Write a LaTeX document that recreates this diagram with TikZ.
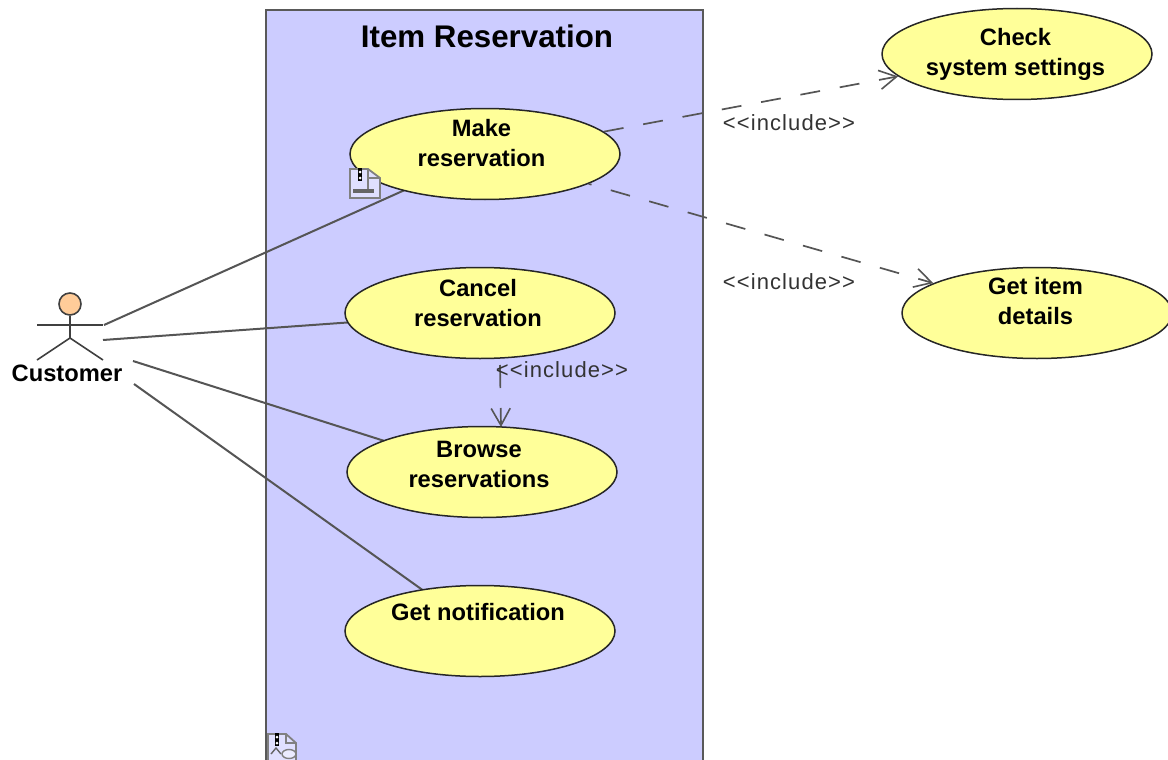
\documentclass[tikz,border=0pt]{standalone}
\usepackage{fontspec}
\setmainfont{Liberation Sans}
\newfontfamily\inclfont[LetterSpace=5]{Liberation Sans}
\usetikzlibrary{shapes.geometric,arrows.meta}
\definecolor{frameblue}{HTML}{CCCCFF}
\definecolor{ucyellow}{HTML}{FFFF99}
\definecolor{skin}{HTML}{FFCC99}
\definecolor{linegray}{HTML}{555555}
\newcommand{\uctext}[3]{\raisebox{#2}[0pt][0pt]{\makebox[0pt]{\hspace{#1}\begin{tabular}{@{}c@{}}#3\end{tabular}}}}
\tikzset{
  x=1pt,y=-1pt,
  usecase/.style={ellipse,draw=black!85,line width=1.5pt,fill=ucyellow,minimum width=270pt,minimum height=91pt,inner sep=0pt,font=\fontsize{23.7}{30}\selectfont\bfseries},
  assoc/.style={draw=linegray,line width=2pt},
  incl/.style={draw=linegray,line width=1.7pt,dash pattern=on 20pt off 20pt,-{Straight Barb[length=17pt,width=19pt,line width=1.6pt]}},
  incllabel/.style={font=\inclfont\fontsize{22}{26}\selectfont,text=black!80},
  actorline/.style={draw=black!75,line width=1.6pt},
  iconline/.style={draw=black!50,line width=1.8pt},
}
\begin{document}
\begin{tikzpicture}
\clip (0,0) rectangle (1168,760);
\fill[white] (0,0) rectangle (1168,760);
% frame
\node[draw=black!65,line width=2pt,fill=frameblue,minimum width=437pt,minimum height=780pt,anchor=north west,inner sep=0pt] (frame) at (265.4,8.6) {};
\node[font=\fontsize{31.3}{36}\selectfont\bfseries] (title) at (487,36) {Item Reservation};
% actor
\node[circle,draw=black!75,line width=1.6pt,fill=skin,minimum size=22pt,inner sep=0pt] (head) at (70,304) {};
\coordinate (neck) at (70,338);
\coordinate (lh) at (37,325);
\coordinate (rh) at (103,325);
\coordinate (lf) at (37,360);
\coordinate (rf) at (103,360);
\draw[actorline] (head) -- (neck);
\draw[actorline] (lh) -- (rh);
\draw[actorline] (lf) -- (neck) -- (rf);
\node[font=\fontsize{23.7}{28}\selectfont\bfseries] (customer) at (67,373) {Customer};
\coordinate (a1) at (104,325);
\coordinate (a2) at (103,340);
\coordinate (a3) at (133,361);
\coordinate (a4) at (134,384);
% associations (drawn before the use cases)
\coordinate (mrc) at (485,154);
\coordinate (crc) at (480,313);
\coordinate (brc) at (482,472);
\coordinate (gnc) at (480,631);
\draw[assoc] (a1) -- (mrc);
\draw[assoc] (a2) -- (crc);
\draw[assoc] (a3) -- (brc);
\draw[assoc] (a4) -- (gnc);
% use cases
\node[usecase] (mr) at (mrc) {\uctext{-7pt}{2pt}{Make\\reservation}};
\node[usecase] (cr) at (crc) {\uctext{-4pt}{1pt}{Cancel\\reservation}};
\node[usecase] (br) at (brc) {\uctext{-6pt}{-1pt}{Browse\\reservations}};
\node[usecase] (gn) at (gnc) {\uctext{-4pt}{10pt}{Get notification}};
\node[usecase] (cs) at (1017,54) {\uctext{-3pt}{-7pt}{Check\\system settings}};
\node[usecase] (gi) at (1037,313) {\uctext{-3pt}{3pt}{Get item\\details}};
% include relations
\draw[incl] (mr) -- (cs);
\draw[incl,dash phase=17pt] (mr) -- (gi);
\coordinate (i1) at (500,365);
\coordinate (i2) at (501,427);
\draw[incl,dash pattern=on 23pt off 20pt] (i1) -- (i2);
\node[incllabel] (l1) at (789,123) {<{}<include>{}>};
\node[incllabel] (l2) at (789,282) {<{}<include>{}>};
\node[incllabel] (l3) at (562,370) {<{}<include>{}>};
% diagram link icon, use case
\draw[iconline,fill=frameblue!60!white] (350,169) -- (368,169) -- (380,178) -- (380,198) -- (350,198) -- cycle;
\draw[iconline] (368,169) -- (368,178) -- (380,178);
\fill[black!60] (353,189) rectangle (374,193);
\draw[iconline] (368,178) -- (368,189);
\draw[black,line width=4pt] (360,168) -- (360,181);
\fill[white] (360,172) circle (1.5pt) (360,178) circle (1.5pt);
% diagram link icon, frame
\draw[iconline,fill=frameblue!60!white] (268,734) -- (286,734) -- (296,743) -- (296,765) -- (268,765) -- cycle;
\draw[iconline] (286,734) -- (286,743) -- (296,743);
\draw[black,line width=4pt] (277,733) -- (277,746);
\fill[white] (277,737) circle (1.5pt) (277,743) circle (1.5pt);
\draw[black!60,line width=1.4pt] (271,754) -- (276,748) -- (281,754);
\draw[black!50,line width=1.4pt,fill=frameblue!40!white] (289,754) ellipse (7pt and 4.5pt);
\end{tikzpicture}
\end{document}
